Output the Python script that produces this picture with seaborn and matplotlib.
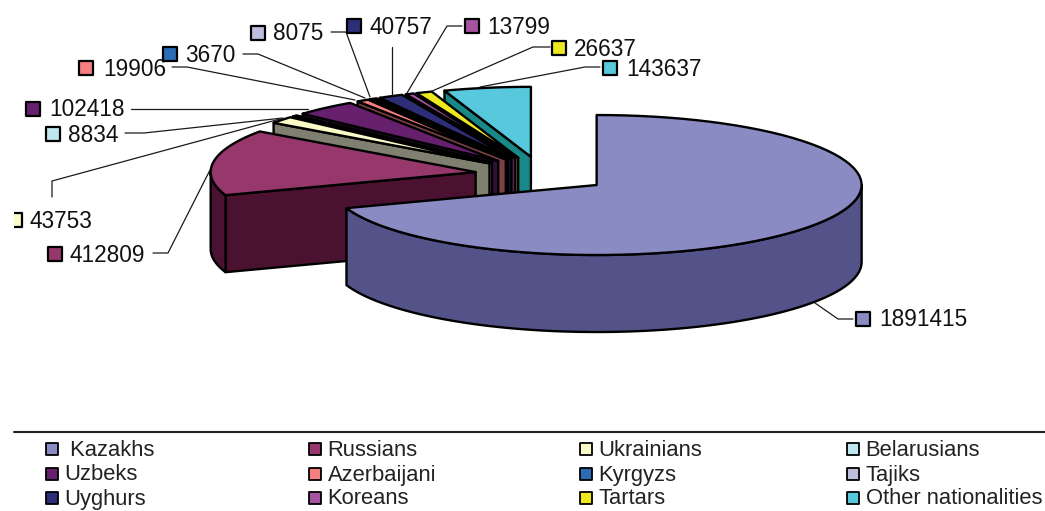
import matplotlib
matplotlib.use("Agg")
import matplotlib.pyplot as plt
from matplotlib.patches import Polygon, Rectangle
import numpy as np
import seaborn as sns

# data
nations = [" Kazakhs", "Russians", "Ukrainians", "Belarusians", "Uzbeks", "Azerbaijani",
           "Kyrgyzs", "Tajiks", "Uyghurs", "Koreans", "Tartars", "Other nationalities"]
people = [1891415, 412809, 43753, 8834, 102418, 19906, 3670, 8075, 40757, 13799, 26637, 143637]

# colours
top_colors = ["#8B8BC3", "#96386B", "#FBFBC8", "#C0E6EE", "#66206E", "#F57E80",
              "#2B6CB5", "#BDBDDE", "#2E2E78", "#A853A0", "#EEE820", "#58C8DC"]
side_colors = ["#53538A", "#4A1230", "#808070", "#607378", "#33103A", "#7A4045",
               "#163660", "#5F5F70", "#17173C", "#542950", "#8A8A28", "#198888"]

# layout, in pixels of the picture
cx, cy = 542, 174.6
rx, ry = 265, 70
depth = 77
explode_x, explode_y = 67, 18

swatch_pos = [(863, 319), (55, 254), (15, 220), (53, 134), (33, 109), (86, 68),
              (170, 54), (258, 33), (354, 26), (472, 26), (559, 48), (610, 68)]
label_pos = [879, 69, 29, 68, 49, 103, 185, 273, 369, 487, 574, 626]
leaders = [
    [(815, 303), (838, 319), (853, 319)],
    [(210, 170), (168, 253), (153, 253)],
    [(52, 197), (52, 181), (280, 119)],
    [(125, 133), (144, 133), (283, 118)],
    [(131, 109), (308, 109)],
    [(172, 67), (187, 67), (355, 100)],
    [(243, 54), (258, 54), (365, 98)],
    [(331, 32), (346, 32), (370, 97)],
    [(392, 47), (392, 95)],
    [(462, 26), (447, 26), (407, 93)],
    [(550, 47), (533, 47), (430, 92)],
    [(600, 67), (585, 67), (480, 87)],
]
legend_x = [52, 315, 586, 853]
legend_y = [449, 474, 498]

sns.set_style("white")
plt.rcParams["font.family"] = ["Liberation Sans", "DejaVu Sans"]

fig, ax = plt.subplots(figsize=(10.45, 5.11), dpi=100)
ax.set_position([0, 0, 1, 1])
ax.set_xlim(0, 1045)
ax.set_ylim(511, 0)
ax.axis("off")

lw = 1.7
shares = np.array(people) / sum(people) * 360
ends = np.cumsum(shares)
starts = ends - shares


def add_poly(pts, color):
    ax.add_patch(Polygon(pts, closed=True, facecolor=color, edgecolor="black",
                         linewidth=lw, joinstyle="round"))


# back slices first, Kazakhs last
for i in range(len(people) - 1, -1, -1):
    a0, a1 = starts[i], ends[i]
    mid = np.radians((a0 + a1) / 2)
    ax0 = cx + explode_x * np.sin(mid)
    ay0 = cy - explode_y * np.cos(mid)

    def rim_pt(a):
        return ax0 + rx * np.sin(np.radians(a)), ay0 - ry * np.cos(np.radians(a))

    for a, show in ((a0, 180 < a0 < 360), (a1, 0 < a1 < 180)):
        if show:
            x, y = rim_pt(a)
            add_poly([(ax0, ay0), (x, y), (x, y + depth), (ax0, ay0 + depth)], side_colors[i])

    r0, r1 = max(a0, 90), min(a1, 270)
    if r1 > r0:
        arc = [rim_pt(a) for a in np.linspace(r0, r1, 80)]
        add_poly(arc + [(x, y + depth) for x, y in arc[::-1]], side_colors[i])

    arc = [rim_pt(a) for a in np.linspace(a0, a1, 80)]
    add_poly([(ax0, ay0)] + arc, top_colors[i])

# leader lines and value labels
for pts in leaders:
    ax.plot([p[0] for p in pts], [p[1] for p in pts], color="#1a1a1a", lw=0.9)

for i, v in enumerate(people):
    x, y = swatch_pos[i]
    s = ax.scatter([x], [y], marker="s", s=88, color=top_colors[i], edgecolor="black",
                   linewidth=1.6, zorder=5)
    if i == 2:
        # this swatch is cut off at the left edge of the chart area
        s.set_clip_path(Rectangle((14, 200), 40, 40, transform=ax.transData))
    ax.text(label_pos[i], y + 1, str(v), fontsize=16.3, va="center", ha="left", color="#111111")

# legend
ax.plot([14, 1045], [432, 432], color="#222222", lw=1.5)
legend_xs = [legend_x[j % 4] for j in range(12)]
legend_ys = [legend_y[j // 4] for j in range(12)]
sns.scatterplot(x=legend_xs, y=legend_ys, hue=nations, palette=top_colors, marker="s", s=80,
                edgecolor="black", linewidth=1.3, legend=False, ax=ax, zorder=5)
ax.set_xlim(0, 1045)
ax.set_ylim(511, 0)
for j, name in enumerate(nations):
    ax.text(legend_xs[j] + 12.5, legend_ys[j] + 1, name, fontsize=15.8, va="center", ha="left",
            color="#222222")

fig.savefig("out.png", dpi=100)
